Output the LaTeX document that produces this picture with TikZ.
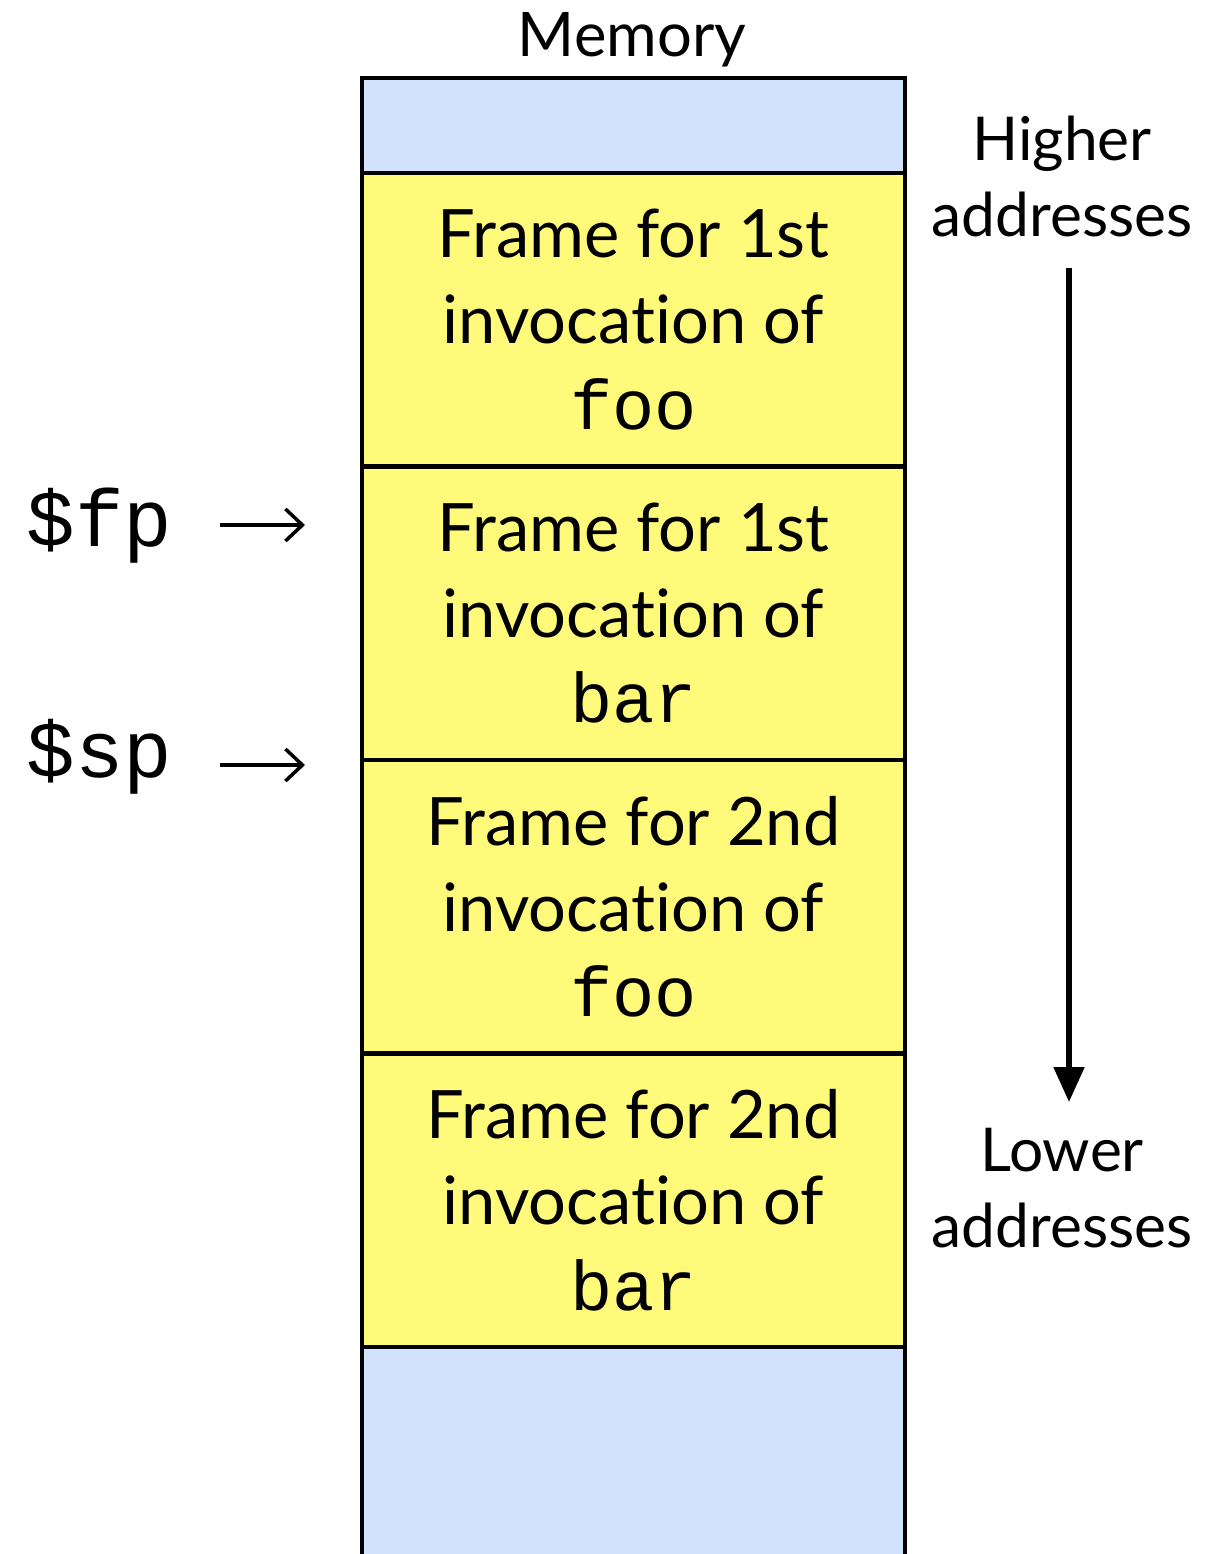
\documentclass[tikz,border=0pt]{standalone}
\usepackage{fontspec}
\setmainfont{Lato}[Ligatures={CommonOff,ContextualOff}]
\setmonofont{Liberation Mono}
\usetikzlibrary{positioning,arrows.meta}

\definecolor{framefill}{HTML}{FFFA7A}
\definecolor{freefill}{HTML}{D2E2FC}

\tikzset{
  cell/.style={draw, line width=1.3pt, outer sep=0pt, inner sep=0pt,
    minimum width=5.43cm, align=center},
  stackframe/.style={cell, fill=framefill, minimum height=2.935cm,
    font=\fontsize{19}{24.4}\selectfont},
  freecell/.style={cell, fill=freefill},
  side/.style={font=\fontsize{17.2}{21.6}\selectfont, align=center},
  reg/.style={font=\fontsize{23}{26}\selectfont\ttfamily},
  ptr/.style={line width=1pt, -{Straight Barb[length=1.7mm,width=3.2mm]}},
  dir/.style={line width=1.5pt, -{Triangle[length=3.5mm,width=3mm]}}
}
\newcommand{\fn}[1]{{\fontsize{20}{24.4}\selectfont\ttfamily #1}}

\begin{document}
\begin{tikzpicture}
    \useasboundingbox (0,0) rectangle (12.2,-15.54);
    % memory column
    \node[freecell, minimum height=0.95cm] (top) at (6.335,-1.255) {};
    \node[stackframe, below=0pt of top] (foo1) {Frame for 1st\\invocation of\\\fn{foo}};
    \node[stackframe, below=0pt of foo1] (bar1) {Frame for 1st\\invocation of\\\fn{bar}};
    \node[stackframe, below=0pt of bar1] (foo2) {Frame for 2nd\\invocation of\\\fn{foo}};
    \node[stackframe, below=0pt of foo2] (bar2) {Frame for 2nd\\invocation of\\\fn{bar}};
    \fill[freefill] (bar2.south west) rectangle ([yshift=-2.5cm]bar2.south east);
    \draw[line width=1.3pt] (bar2.south west) -- ++(0,-2.5) (bar2.south east) -- ++(0,-2.5);
    \draw[line width=1.3pt] (bar2.south west) -- (bar2.south east);
    \node[side, font=\fontsize{17.5}{21}\selectfont, anchor=base] (mem) at (6.32,-0.57) {Memory};

    % direction of growth
    \node[side, anchor=north] (higher) at (10.62,-1.04) {Higher\\addresses};
    \node[side, anchor=north] (lower) at (10.62,-11.16) {Lower\\addresses};
    \coordinate (hi) at (10.69,-2.68);
    \coordinate (lo) at (10.69,-11.02);
    \draw[dir] (hi) -- (lo);

    % registers
    \node[reg, anchor=base west, inner sep=0pt] (fp) at (0.26,-5.47) {\$fp};
    \node[reg, anchor=base west, inner sep=0pt] (sp) at (0.26,-7.77) {\$sp};
    \coordinate (fptail) at (2.2,-5.25);
    \coordinate (fptip) at (3.05,-5.25);
    \coordinate (sptail) at (2.2,-7.65);
    \coordinate (sptip) at (3.05,-7.65);
    \draw[ptr] (fptail) -- (fptip);
    \draw[ptr] (sptail) -- (sptip);
\end{tikzpicture}
\end{document}
